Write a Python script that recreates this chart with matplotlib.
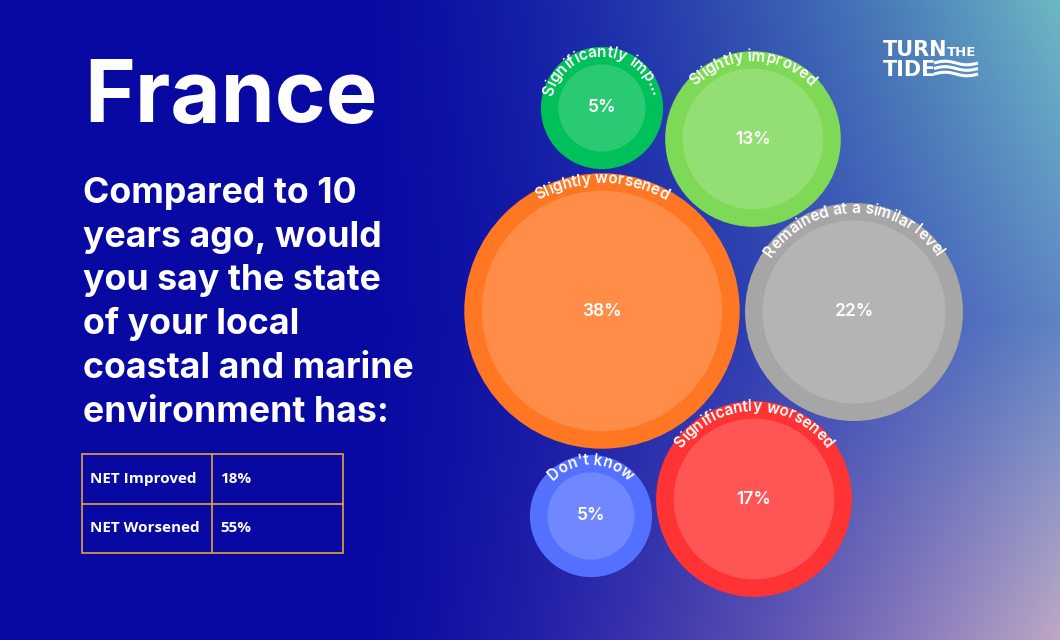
import numpy as np
import matplotlib
matplotlib.use("Agg")
import matplotlib.pyplot as plt
from matplotlib.patches import Circle, Rectangle
from matplotlib import font_manager
from matplotlib.ft2font import FT2Font

W, H = 1060, 640

# data
arc_labels = ["Significantly imp\u2026", "Slightly improved", "Slightly worsened",
              "Remained at a similar level", "Significantly worsened", "Don't know"]
values = [5, 13, 38, 22, 17, 5]
colors = ["#00c05a", "#7ed957", "#ff7722", "#a6a6a6", "#ff3333", "#5470ff"]
net_labels = ["NET Improved", "NET Worsened"]
net_values = [18, 55]
title = "France"
question = ["Compared to 10", "years ago, would", "you say the state",
            "of your local", "coastal and marine", "environment has:"]

# packed layout, bubble centres in pixels (y from top)
centres = [(602, 108), (753, 139), (602, 311), (854, 312), (754, 499), (591, 516)]
ring = 17.5
scale = 19.5


def Y(y):
    return H - y


def arc_text(ax, s, cx, cy, r, size, family="Inter", weight="semibold"):
    prop = font_manager.FontProperties(family=family, weight=weight, size=size)
    f = FT2Font(font_manager.findfont(prop))
    f.set_size(size, 100)
    adv = [f.load_char(ord(ch)).linearHoriAdvance / 65536 for ch in s]
    theta = np.pi / 2 + sum(adv) / r / 2
    for ch, a in zip(s, adv):
        t = theta - (a / 2) / r
        ax.text(cx + r * np.cos(t), cy + r * np.sin(t), ch,
                rotation=np.degrees(t) - 90, rotation_mode="anchor",
                ha="center", va="baseline", fontproperties=prop,
                color="white", zorder=5)
        theta -= a / r


fig = plt.figure(figsize=(W / 100, H / 100), dpi=100)
ax = fig.add_axes([0, 0, 1, 1])
ax.set_xlim(0, W)
ax.set_ylim(0, H)
ax.axis("off")

# background gradient
xx, yy = np.meshgrid(np.linspace(0, 1, W), np.linspace(0, 1, H))
base = np.array([8, 8, 162]) / 255
top_c = np.array([108, 184, 196]) / 255
mid_c = np.array([94, 132, 196]) / 255
bot_c = np.array([190, 168, 198]) / 255
t = np.clip((xx * W - 330) / 730, 0, 1) ** 1.5
yv = yy[..., None]
right = np.where(yv < 0.5, top_c + (mid_c - top_c) * (yv / 0.5),
                 mid_c + (bot_c - mid_c) * ((yv - 0.5) / 0.5))
img = base * (1 - t[..., None]) + right * t[..., None]
ax.imshow(img, extent=(0, W, 0, H), origin="upper", aspect="auto", zorder=0)

# title and question
ax.text(84, Y(122), title, fontsize=62.5, fontweight="bold", family="Inter",
        color="white", ha="left", va="baseline")
for i, line in enumerate(question):
    ax.text(83, Y(203 + i * 43.7), line, fontsize=25.7, fontweight="bold",
            family="Inter", color="white", ha="left", va="baseline")

# NET table
edge = "#e3a13a"
ax.add_patch(Rectangle((82, Y(553)), 261, 99, fill=False, ec=edge, lw=1.2, zorder=3))
ax.plot([212, 212], [Y(454), Y(553)], color=edge, lw=1.2, zorder=3)
ax.plot([82, 343], [Y(503.5), Y(503.5)], color=edge, lw=1.2, zorder=3)
for i, (lab, v) in enumerate(zip(net_labels, net_values)):
    yc = Y(479 + i * 49)
    ax.text(90, yc, lab, fontsize=11, fontweight="bold", family="Open Sans",
            color="white", ha="left", va="center")
    ax.text(220, yc, f"{v}%", fontsize=11, fontweight="bold", family="Open Sans",
            color="white", ha="left", va="center")

# bubbles
for lab, v, c, (cx, cy) in zip(arc_labels, values, colors, centres):
    r_in = scale * np.sqrt(v)
    r_out = r_in + ring
    ax.add_patch(Circle((cx, Y(cy)), r_out, color=c, lw=0, zorder=2))
    ax.add_patch(Circle((cx, Y(cy)), r_in, color="white", alpha=0.17, lw=0, zorder=3))
    ax.text(cx, Y(cy), f"{v}%", fontsize=12.5, family="Inter", fontweight="semibold",
            color="white", ha="center", va="center", zorder=5)
    arc_text(ax, lab, cx, Y(cy), r_out - 10, 11)

# logo
ax.text(883, Y(55.5), "TURN", fontsize=15, fontweight="heavy", family="DejaVu Sans",
        color="white", ha="left", va="baseline")
ax.text(947, Y(55.5), "THE", fontsize=9.5, fontweight="bold", family="DejaVu Sans",
        color="white", ha="left", va="baseline")
ax.text(883, Y(76), "TIDE", fontsize=15, fontweight="heavy", family="DejaVu Sans",
        color="white", ha="left", va="baseline")
wx = np.linspace(934, 978, 60)
for k in range(3):
    wy = 63 + k * 5.5 + 1.8 * np.sin((wx - 934) / 44 * 2 * np.pi + np.pi)
    ax.plot(wx, Y(wy), color="white", lw=2.2, solid_capstyle="butt", zorder=5)

fig.savefig("out.png", dpi=100)
